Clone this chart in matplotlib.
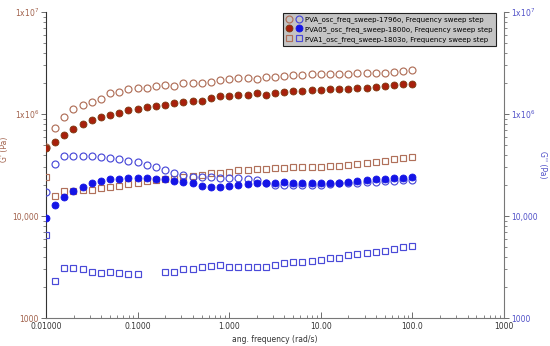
import numpy as np
import matplotlib
matplotlib.use("Agg")
import matplotlib.pyplot as plt
from matplotlib.legend_handler import HandlerTuple
from matplotlib.ticker import FixedLocator, LogLocator, NullFormatter

# angular frequency (rad/s), 10 points per decade 0.01 .. 100
freq = [round(10 ** (-2 + i / 10), 6) for i in range(41)]

# storage modulus G' (Pa), left axis
g1_storage = [47.0e3, 73e3, 93e3, 112e3, 122e3, 131e3, 140e3, 161e3, 166e3, 176e3, 180e3,
              180e3, 188e3, 193e3, 188e3, 201e3, 201e3,
              203e3, 207e3, 216e3, 219e3, 224e3, 224e3, 219e3, 232e3, 232e3, 236e3, 241e3,
              241e3, 247e3, 247e3, 247e3, 247e3, 247e3, 251e3, 251e3, 254e3, 254e3, 260e3,
              264e3, 270e3]
g05_storage = [46.4e3, 53.1e3, 62.2e3, 71.3e3, 79.8e3, 87.4e3, 93.5e3, 97.8e3, 102e3, 109e3,
               112e3, 117e3, 120e3, 122e3, 128e3, 131e3, 134e3,
               135e3, 143e3, 150e3, 150e3, 154e3, 154e3, 160e3, 154e3, 162e3, 163e3, 169e3,
               169e3, 172e3, 172e3, 175e3, 175e3, 175e3, 179e3, 179e3, 183e3, 188e3, 192e3,
               197e3, 197e3]
g1b_storage = [24.1e3, 15.7e3, 17.6e3, 17.6e3, 18.0e3, 18.0e3, 18.8e3, 19.2e3, 19.7e3, 20.6e3,
               21.1e3, 22.0e3, 22.5e3, 23.0e3, 23.0e3, 24.1e3, 24.7e3,
               25.2e3, 26.2e3, 26.6e3, 27.2e3, 28.2e3, 28.2e3, 28.7e3, 28.7e3, 29.4e3, 29.4e3,
               30.0e3, 30.0e3, 30.4e3, 30.4e3, 30.9e3, 30.9e3, 31.6e3, 32.4e3, 32.9e3, 34.1e3,
               34.9e3, 35.9e3, 36.8e3, 38.1e3]

# loss modulus G'' (Pa), right axis
g1_loss = [17.3e3, 32.4e3, 38.7e3, 38.7e3, 38.7e3, 38.7e3, 37.9e3, 37.0e3, 36.2e3, 34.6e3,
           33.8e3, 31.6e3, 30.2e3, 28.2e3, 26.4e3, 25.2e3, 24.1e3,
           24.3e3, 23.9e3, 23.4e3, 23.4e3, 23.4e3, 22.9e3, 22.5e3, 21.1e3, 20.3e3, 20.1e3,
           20.1e3, 20.1e3, 20.1e3, 20.1e3, 20.6e3, 20.9e3, 20.9e3, 21.2e3, 21.7e3, 21.7e3,
           22.2e3, 22.2e3, 22.5e3, 22.5e3]
g05_loss = [9.6e3, 12.8e3, 15.4e3, 17.6e3, 19.2e3, 21.1e3, 22.0e3, 23.0e3, 23.0e3, 23.6e3,
            23.6e3, 23.6e3, 23.0e3, 23.0e3, 22.0e3, 21.5e3, 21.1e3,
            19.7e3, 19.4e3, 19.4e3, 19.7e3, 20.1e3, 20.6e3, 20.9e3, 21.2e3, 21.2e3, 21.7e3,
            21.2e3, 21.2e3, 21.2e3, 21.2e3, 21.2e3, 21.2e3, 21.7e3, 22.2e3, 22.5e3, 22.9e3,
            22.9e3, 23.4e3, 23.4e3, 24.3e3]
g1b_loss = [6.51e3, 2.32e3, 3.07e3, 3.11e3, 3.00e3, 2.81e3, 2.74e3, 2.84e3, 2.78e3, 2.70e3,
            2.68e3, np.nan, np.nan, 2.81e3, 2.81e3, 3.00e3, 3.00e3, 3.14e3, 3.24e3, 3.31e3,
            3.18e3, 3.18e3, 3.14e3, 3.14e3, 3.18e3, 3.31e3, 3.44e3, 3.56e3, 3.56e3, 3.65e3,
            3.70e3, 3.85e3, 3.85e3, 4.15e3, 4.24e3, 4.37e3, 4.47e3, 4.57e3, 4.72e3, 4.93e3,
            5.08e3]

labels = ["PVA_osc_freq_sweep-1796o, Frequency sweep step",
          "PVA05_osc_freq_sweep-1800o, Frequency sweep step",
          "PVA1_osc_freq_sweep-1803o, Frequency sweep step"]

x_ticks = [0.01, 0.1, 1, 10, 100, 1000]
x_ticklabels = ["0.01000", "0.1000", "1.000", "10.00", "100.0", "1000"]
y_ticks = [1e3, 1e4, 1e5, 1e6]
y_ticklabels = ["1000", "10,000", "1x10$^{6}$", "1x10$^{7}$"]

BROWN = "#b0705a"
DARKRED = "#a8200c"
DARKRED_EDGE = "#7a3a10"
BLUE_OPEN = "#4a4ad8"
BLUE_FILL = "#1414e6"
LEFT_TXT = "#a0604a"
RIGHT_TXT = "#5050c8"

fig = plt.figure(figsize=(5.5, 3.46), dpi=100)
ax = fig.add_axes([0.0836, 0.0809, 0.8328, 0.8844])
ax2 = ax.twinx()

ms = 5.0
mew = 0.85
h1, = ax.plot(freq, g1_storage, "o", ms=ms, mfc="none", mec=BROWN, mew=mew, zorder=3)
h2, = ax.plot(freq, g05_storage, "o", ms=ms, mfc=DARKRED, mec=DARKRED_EDGE, mew=0.6, zorder=3)
h3, = ax.plot(freq, g1b_storage, "s", ms=ms - 0.5, mfc="none", mec=BROWN, mew=mew, zorder=3)
k1, = ax2.plot(freq, g1_loss, "o", ms=ms, mfc="none", mec=BLUE_OPEN, mew=mew, zorder=3)
k2, = ax2.plot(freq, g05_loss, "o", ms=ms, mfc=BLUE_FILL, mec=BLUE_FILL, mew=0.6, zorder=4)
k3, = ax2.plot(freq, g1b_loss, "s", ms=ms - 0.5, mfc="none", mec=BLUE_OPEN, mew=mew, zorder=3)

for a in (ax, ax2):
    a.set_xscale("log")
    a.set_yscale("log")
    a.set_xlim(0.01, 1000)
    a.set_ylim(1e3, 1e6)
    a.yaxis.set_major_locator(FixedLocator(y_ticks))
    a.yaxis.set_minor_locator(LogLocator(base=10, subs=np.arange(2, 10)))
    a.yaxis.set_minor_formatter(NullFormatter())
    a.set_yticklabels(y_ticklabels)
    a.spines["top"].set_visible(False)

ax.set_xticks(x_ticks)
ax.set_xticklabels(x_ticklabels)
ax.xaxis.set_minor_locator(LogLocator(base=10, subs=np.arange(2, 10)))
ax.xaxis.set_minor_formatter(NullFormatter())
ax.tick_params(axis="x", which="both", direction="in", labelsize=5.5, colors="#555555",
               labelcolor="#333333", pad=3)
ax.tick_params(axis="x", which="major", length=4, width=0.6)
ax.tick_params(axis="x", which="minor", length=2.5, width=0.5)

ax.tick_params(axis="y", which="both", direction="out", colors="#555555",
               labelcolor=LEFT_TXT, labelsize=5.5, pad=1.5)
ax.tick_params(axis="y", which="major", length=3.5, width=0.6)
ax.tick_params(axis="y", which="minor", length=2, width=0.5)
ax2.tick_params(axis="y", which="both", direction="out", colors="#555555",
                labelcolor=RIGHT_TXT, labelsize=5.5, pad=1.5)
ax2.tick_params(axis="y", which="major", length=3.5, width=0.6)
ax2.tick_params(axis="y", which="minor", length=2, width=0.5)

ax.spines["left"].set_color("#333333")
ax.spines["left"].set_linewidth(0.8)
ax.spines["bottom"].set_color("#777777")
ax.spines["bottom"].set_linewidth(0.8)
ax.spines["right"].set_visible(False)
ax2.spines["left"].set_visible(False)
ax2.spines["bottom"].set_visible(False)
ax2.spines["right"].set_color("#777777")
ax2.spines["right"].set_linewidth(0.8)

ax.set_xlabel("ang. frequency (rad/s)", fontsize=5.5, color="#333333", labelpad=3)
ax.set_ylabel("G' (Pa)", fontsize=5.5, color=LEFT_TXT)
ax.yaxis.set_label_coords(-0.08, 0.55)
ax2.set_ylabel("G'' (Pa)", fontsize=5.5, color=RIGHT_TXT, rotation=270, va="center")
ax2.yaxis.set_label_coords(1.083, 0.5)

leg = ax.legend([(h1, k1), (h2, k2), (h3, k3)], labels,
                handler_map={tuple: HandlerTuple(ndivide=None, pad=0.5)},
                loc="upper left", bbox_to_anchor=(0.517, 0.997), fontsize=5.0,
                frameon=True, fancybox=False, framealpha=1, facecolor="#c4c4c4",
                edgecolor="#222222", borderpad=0.45, labelspacing=0.45,
                handlelength=2.4, handletextpad=0.35, borderaxespad=0)
leg.get_frame().set_linewidth(0.8)
leg.set_zorder(10)

fig.savefig("out.png", dpi=100)
